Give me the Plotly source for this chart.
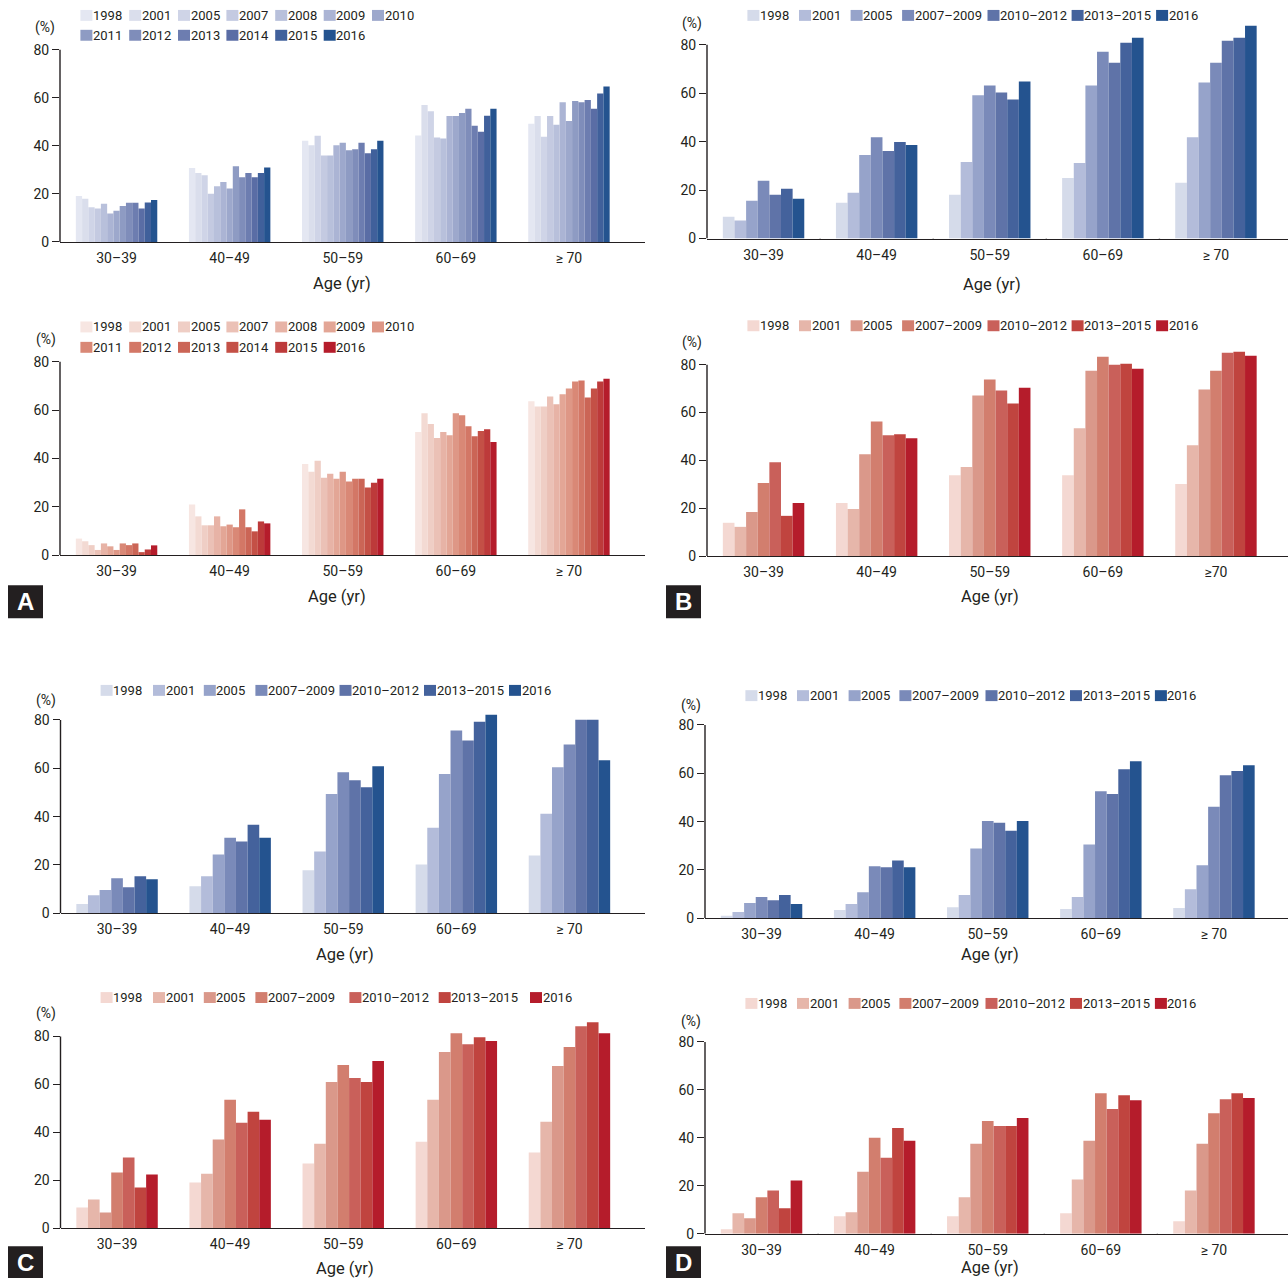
import plotly.graph_objects as go

# ---------------- data ----------------
ages = ["30–39", "40–49", "50–59", "60–69", "≥ 70"]
ages_b2 = ["30–39", "40–49", "50–59", "60–69", "≥70"]
years_13 = ["1998", "2001", "2005", "2007", "2008", "2009", "2010",
            "2011", "2012", "2013", "2014", "2015", "2016"]
years_7 = ["1998", "2001", "2005", "2007–2009", "2010–2012", "2013–2015", "2016"]

# rows = age groups, columns = survey years
a_top = [
    [19.1, 18.0, 14.4, 13.9, 15.9, 11.8, 13.0, 15.0, 16.3, 16.3, 13.9, 16.4, 17.5],
    [30.8, 28.7, 27.8, 20.1, 23.2, 25.0, 22.2, 31.5, 26.9, 28.7, 26.9, 28.7, 31.0],
    [42.1, 40.2, 44.2, 36.0, 36.0, 40.2, 41.3, 38.2, 38.6, 41.3, 36.9, 38.6, 42.1],
    [44.3, 57.0, 54.4, 43.5, 43.1, 52.4, 52.4, 53.7, 55.4, 48.4, 45.9, 52.5, 55.4],
    [49.2, 52.4, 43.8, 52.4, 48.8, 58.1, 50.3, 58.7, 58.1, 59.1, 55.4, 61.8, 64.7],
]
a_bottom = [
    [6.8, 5.7, 4.1, 2.1, 4.8, 3.6, 2.1, 4.8, 4.1, 4.8, 1.2, 2.3, 4.0],
    [20.9, 16.0, 12.3, 12.3, 16.0, 11.9, 12.6, 11.5, 18.9, 11.5, 9.8, 13.9, 13.1],
    [37.7, 34.5, 39.0, 32.0, 33.6, 31.6, 34.5, 30.4, 31.6, 31.6, 27.9, 29.9, 31.6],
    [50.9, 58.7, 54.2, 48.4, 50.9, 49.6, 58.7, 57.8, 53.3, 49.2, 51.3, 52.1, 46.8],
    [63.6, 61.5, 61.5, 65.6, 62.4, 66.5, 68.9, 71.8, 72.2, 65.2, 68.9, 71.8, 73.0],
]
b_top = [
    [9.0, 7.4, 15.6, 23.8, 18.1, 20.5, 16.4],
    [14.8, 18.9, 34.5, 41.8, 36.1, 39.8, 38.6],
    [18.1, 31.6, 59.1, 63.2, 60.3, 57.4, 64.8],
    [25.0, 31.2, 63.2, 77.1, 72.6, 80.8, 82.9],
    [23.0, 41.8, 64.4, 72.6, 81.6, 82.9, 87.8],
]
b_bottom = [
    [13.9, 12.2, 18.4, 30.5, 39.2, 16.8, 22.2],
    [22.2, 19.7, 42.6, 56.3, 50.5, 50.9, 49.2],
    [33.8, 37.2, 67.1, 73.8, 69.2, 63.8, 70.4],
    [33.8, 53.4, 77.5, 83.3, 80.0, 80.4, 78.3],
    [30.1, 46.3, 69.6, 77.5, 85.0, 85.4, 83.7],
]
c_top = [
    [3.8, 7.5, 9.6, 14.5, 10.8, 15.3, 14.1],
    [11.2, 15.3, 24.3, 31.3, 29.7, 36.6, 31.3],
    [17.8, 25.6, 49.4, 58.4, 55.1, 52.2, 60.9],
    [20.2, 35.4, 57.6, 75.6, 71.5, 79.3, 82.2],
    [23.9, 41.2, 60.4, 69.9, 80.1, 80.1, 63.3],
]
c_bottom = [
    [8.7, 12.0, 6.6, 23.3, 29.5, 17.0, 22.4],
    [19.1, 22.8, 37.0, 53.6, 44.0, 48.6, 45.3],
    [27.0, 35.3, 61.0, 68.1, 62.7, 61.0, 69.8],
    [36.1, 53.6, 73.5, 81.4, 76.8, 79.7, 78.1],
    [31.6, 44.4, 67.7, 75.6, 84.3, 86.0, 81.4],
]
d_top = [
    [1.0, 2.6, 6.3, 8.8, 7.5, 9.6, 5.9],
    [3.4, 5.9, 10.8, 21.5, 21.1, 23.9, 21.1],
    [4.6, 9.6, 28.9, 40.3, 39.5, 36.2, 40.3],
    [3.8, 8.8, 30.5, 52.6, 51.4, 61.7, 65.0],
    [4.2, 12.0, 21.9, 46.1, 59.2, 60.9, 63.3],
]
d_bottom = [
    [1.9, 8.6, 6.5, 15.2, 18.1, 10.6, 22.2],
    [7.3, 9.0, 25.9, 40.0, 31.7, 44.1, 38.8],
    [7.3, 15.2, 37.5, 47.0, 45.0, 45.0, 48.3],
    [8.6, 22.6, 38.8, 58.6, 52.0, 57.8, 55.7],
    [5.2, 18.1, 37.5, 50.3, 56.1, 58.6, 56.6],
]

y_ticks = [0, 20, 40, 60, 80]

# ---------------- style ----------------
blue13 = ["#E4E7F2", "#DADEEC", "#CFD4E7", "#C4CAE1", "#B8C0DB", "#ABB4D4", "#9DA8CC",
          "#8E9BC3", "#7F8DBA", "#6D7DB0", "#5A6DA5", "#40609B", "#24538F"]
red13 = ["#F7E6E2", "#F3DAD3", "#EFCEC5", "#EBC1B6", "#E7B3A6", "#E3A696", "#DE9786",
         "#D98876", "#D37766", "#CB6556", "#C45046", "#BD3A3A", "#B51C2B"]
blue7 = ["#D5DBEA", "#B3BCDA", "#96A3CA", "#7A8AB9", "#5F73A8", "#44629C", "#24538F"]
red7 = ["#F4D8D2", "#E6B6AA", "#DA988A", "#D27E6E", "#C9605A", "#C0443F", "#B51C2B"]

W, H = 1288, 1286
FONT = "Roboto, Liberation Sans, sans-serif"
TXT = "#231F20"
CATW = 113.1


def fx(x):
    return x / W


def fy(y):
    return 1 - y / H


legx_A = [80.4, 129.2, 178.0, 226.4, 275.2, 323.7, 372.0]
legx_B = [747.4, 799.0, 850.6, 902.1, 987.5, 1071.6, 1156.1]
legx_C1 = [100.6, 153.0, 203.8, 255.4, 339.5, 424.0, 509.0]
legx_C2 = [100.6, 153.0, 203.8, 255.4, 349.4, 438.7, 530.0]
legx_D = [745.4, 797.0, 848.6, 899.4, 985.5, 1070.0, 1154.9]

panels = [
    dict(vals=a_top, series=years_13, cats=ages, colors=blue13, x0=60, x1=645, y0=243.5, y80=50,
         legx=legx_A, legy=[15.5, 35.5], pct=(45, 28), age=(342, 285)),
    dict(vals=a_bottom, series=years_13, cats=ages, colors=red13, x0=60, x1=645, y0=558.5, y80=364,
         legx=legx_A, legy=[329, 349.5], pct=(45.5, 342), age=(337, 600)),
    dict(vals=b_top, series=years_7, cats=ages, colors=blue7, x0=707, x1=1288, y0=240, y80=45,
         legx=legx_B, legy=[15.5], pct=(692, 24), age=(992, 286)),
    dict(vals=b_bottom, series=years_7, cats=ages_b2, colors=red7, x0=707, x1=1288, y0=559.5, y80=367,
         legx=legx_B, legy=[327.8], pct=(692, 345), age=(990, 600)),
    dict(vals=c_top, series=years_7, cats=ages, colors=blue7, x0=60.5, x1=645, y0=919, y80=724.5,
         legx=legx_C1, legy=[694.7], pct=(45.5, 704.5), age=(344.7, 960)),
    dict(vals=c_bottom, series=years_7, cats=ages, colors=red7, x0=60.5, x1=645, y0=1236, y80=1043,
         legx=legx_C2, legy=[1003.8], pct=(45.5, 1020), age=(344.7, 1276)),
    dict(vals=d_top, series=years_7, cats=ages, colors=blue7, x0=705, x1=1288, y0=924, y80=729.5,
         legx=legx_D, legy=[700], pct=(690.5, 710), age=(990, 960)),
    dict(vals=d_bottom, series=years_7, cats=ages, colors=red7, x0=705, x1=1288, y0=1241.5, y80=1048.5,
         legx=legx_D, legy=[1009.7], pct=(690.5, 1028), age=(990, 1275)),
]

fig = go.Figure()
shapes = []
annotations = []
layout_axes = {}

for i, p in enumerate(panels, start=1):
    sfx = "" if i == 1 else str(i)
    xname, yname = "x" + sfx, "y" + sfx
    nser = len(p["series"])
    for s in range(nser):
        fig.add_trace(go.Bar(
            x=p["cats"], y=[row[s] for row in p["vals"]],
            name=p["series"][s], marker=dict(color=p["colors"][s], line=dict(width=0)),
            xaxis=xname, yaxis=yname, showlegend=False,
        ))
    ymax = 90
    ytop = p["y0"] - (p["y0"] - p["y80"]) * ymax / 80
    xr1 = -0.5 + (p["x1"] - p["x0"]) / CATW
    layout_axes["xaxis" + sfx] = dict(
        domain=[fx(p["x0"]), min(1.0, fx(p["x1"]))], anchor=yname, type="category",
        range=[-0.5, xr1], showline=True, linecolor=TXT, linewidth=1.4,
        showgrid=False, zeroline=False, ticks="", ticklabelstandoff=3,
        tickfont=dict(size=14, color=TXT, family=FONT),
        fixedrange=True,
    )
    layout_axes["yaxis" + sfx] = dict(
        domain=[fy(p["y0"]), fy(ytop)], anchor=xname, range=[0, ymax],
        tickvals=y_ticks, ticks="outside", ticklen=7, tickwidth=1.2, tickcolor=TXT,
        showline=False, showgrid=False, zeroline=False,
        tickfont=dict(size=14, color=TXT, family=FONT), fixedrange=True,
    )
    # y-axis line from 0 to 80
    shapes.append(dict(type="line", xref=xname + " domain", yref=yname, x0=0, x1=0, y0=0, y1=80,
                       line=dict(color=TXT, width=1.4)))
    # category boundary ticks
    for k in range(len(p["cats"]) - 1):
        shapes.append(dict(type="line", xref=xname, yref=yname, ysizemode="pixel", yanchor=0,
                           x0=k + 0.5, x1=k + 0.5, y0=0, y1=-8,
                           line=dict(color=TXT, width=1.4)))
    # legend
    per_row = len(p["legx"])
    for s in range(nser):
        row = s // per_row
        col = s % per_row
        lx = p["legx"][col]
        ly = p["legy"][row]
        shapes.append(dict(type="rect", xref="paper", yref="paper",
                           x0=fx(lx), x1=fx(lx + 12), y0=fy(ly - 5.5), y1=fy(ly + 5.5),
                           fillcolor=p["colors"][s], line=dict(width=0)))
        annotations.append(dict(text=p["series"][s], xref="paper", yref="paper",
                                x=fx(lx + 11.5), y=fy(ly), xanchor="left", yanchor="middle",
                                showarrow=False, borderpad=0,
                                font=dict(size=13, color=TXT, family=FONT)))
    annotations.append(dict(text="(%)", xref="paper", yref="paper", x=fx(p["pct"][0]), y=fy(p["pct"][1]),
                            xanchor="center", yanchor="middle", showarrow=False,
                            font=dict(size=14, color=TXT, family=FONT)))
    annotations.append(dict(text="Age (yr)", xref="paper", yref="paper", x=fx(p["age"][0]), y=fy(p["age"][1]),
                            xanchor="center", yanchor="middle", showarrow=False,
                            font=dict(size=16.5, color=TXT, family=FONT)))

# panel letters
for letter, (bx0, by0, bx1, by1) in {"A": (8, 589, 43, 622), "B": (666, 589, 701, 622),
                                     "C": (8, 1254, 43, 1286), "D": (666, 1254, 701, 1286)}.items():
    shapes.append(dict(type="rect", xref="paper", yref="paper", x0=fx(bx0), x1=fx(bx1),
                       y0=fy(by1), y1=fy(by0), fillcolor="#231F20", line=dict(width=0)))
    annotations.append(dict(text="<b>" + letter + "</b>", xref="paper", yref="paper",
                            x=fx((bx0 + bx1) / 2), y=fy((by0 + by1) / 2), xanchor="center", yanchor="middle",
                            showarrow=False, font=dict(size=24, color="white", family="Liberation Sans, Arial, sans-serif")))

fig.update_layout(
    width=W, height=H, margin=dict(l=0, r=0, t=0, b=0),
    paper_bgcolor="white", plot_bgcolor="rgba(0,0,0,0)",
    barmode="group", bargap=0.28, bargroupgap=0,
    font=dict(family=FONT, color=TXT),
    shapes=shapes, annotations=annotations, showlegend=False,
    **layout_axes,
)

fig.write_html("out.html", config={"displayModeBar": False},
               post_script="document.body.style.margin='0';document.body.style.padding='0';")
